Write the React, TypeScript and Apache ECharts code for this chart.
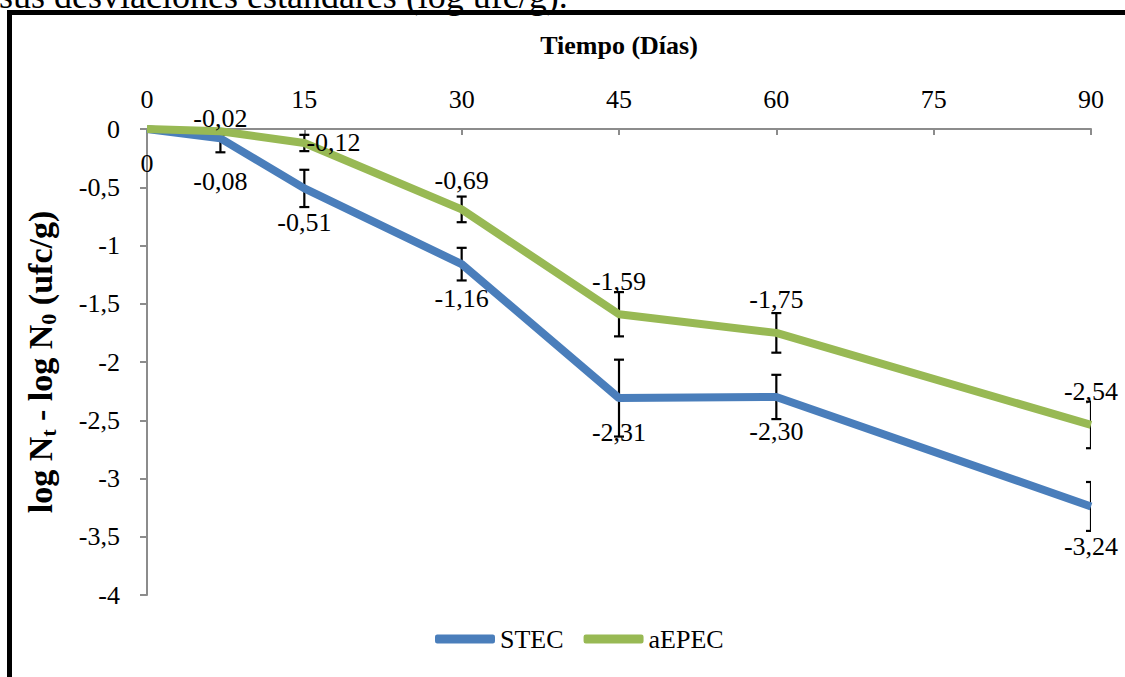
import React, { useEffect, useRef } from "react";
import * as echarts from "echarts";

const days = [0, 7, 15, 30, 45, 60, 90];
const stec = [0, -0.08, -0.51, -1.16, -2.31, -2.30, -3.24];
const aepec = [0, -0.02, -0.12, -0.69, -1.59, -1.75, -2.54];
const stecErr = [0, 0.12, 0.16, 0.14, 0.33, 0.19, 0.21];
const aepecErr = [0, 0.03, 0.07, 0.11, 0.19, 0.17, 0.2];
const xTicks = [0, 15, 30, 45, 60, 75, 90];
const yTicks = [0, -0.5, -1, -1.5, -2, -2.5, -3, -3.5, -4];

const FONT = "'Liberation Serif', 'Times New Roman', serif";
const BLUE = "#4A7EBB";
const GREEN = "#98B954";
const AXIS = "#8C8C8C";

const fmt = (v: number) => (v === 0 ? "0" : v.toFixed(2).replace(".", ","));

function errRender(params: any, api: any) {
  const x = api.value(0);
  const y = api.value(1);
  const e = api.value(2);
  if (!e) return null;
  const t = api.coord([x, y + e]);
  const b = api.coord([x, y - e]);
  const hw = 5;
  const style = { stroke: "#000", lineWidth: 2.2, fill: "none" };
  return {
    type: "group",
    children: [
      { type: "line", shape: { x1: t[0], y1: t[1], x2: b[0], y2: b[1] }, style },
      { type: "line", shape: { x1: t[0] - hw, y1: t[1], x2: t[0] + hw, y2: t[1] }, style },
      { type: "line", shape: { x1: b[0] - hw, y1: b[1], x2: b[0] + hw, y2: b[1] }, style },
    ],
  };
}

export default function App() {
  const ref = useRef<HTMLDivElement>(null);
  useEffect(() => {
    if (!ref.current) return;
    const chart = echarts.init(ref.current, undefined, { renderer: "svg" });
    const labelBase = { show: true, fontFamily: FONT, fontSize: 26, color: "#000" };
    const stecData = days.map((d, i) => ({
      value: [d, stec[i]],
      label: {
        ...labelBase,
        position: "bottom",
        distance: i === 1 ? 30 : i === 6 ? 27 : 21,
        formatter: () => fmt(stec[i]),
      },
    }));
    const aepecData = days.map((d, i) => ({
      value: [d, aepec[i]],
      label:
        i === 0
          ? { show: false }
          : i === 2
          ? { ...labelBase, position: "right", distance: 2, formatter: () => fmt(aepec[i]) }
          : {
              ...labelBase,
              position: "top",
              distance: i === 1 ? 0 : i === 3 ? 16 : 20,
              formatter: () => fmt(aepec[i]),
            },
    }));
    chart.setOption({
      animation: false,
      backgroundColor: "#fff",
      textStyle: { fontFamily: FONT },
      grid: { left: 147, right: 34, top: 129, bottom: 82, containLabel: false },
      xAxis: {
        type: "value",
        position: "top",
        min: 0,
        max: 90,
        interval: 15,
        name: "Tiempo (Días)",
        nameLocation: "middle",
        nameGap: 71,
        nameTextStyle: { fontFamily: FONT, fontSize: 26, fontWeight: "bold", color: "#000" },
        axisLine: { show: true, onZero: false, lineStyle: { color: AXIS, width: 2 } },
        axisTick: { show: true, inside: true, length: 6, lineStyle: { color: AXIS, width: 2 } },
        axisLabel: {
          fontFamily: FONT,
          fontSize: 26,
          color: "#000",
          margin: 17,
          formatter: (v: number) => (xTicks.includes(v) ? String(v) : ""),
        },
        splitLine: { show: false },
      },
      yAxis: {
        type: "value",
        min: -4,
        max: 0,
        interval: 0.5,
        name: "{a|log N}{s|t}{a| - log N}{s|0}{a| (ufc/g)}",
        nameLocation: "middle",
        nameGap: 88,
        nameTextStyle: {
          rich: {
            a: { fontFamily: FONT, fontSize: 34, fontWeight: "bold", color: "#000", lineHeight: 38 },
            s: {
              fontFamily: FONT,
              fontSize: 22,
              fontWeight: "bold",
              color: "#000",
              lineHeight: 38,
              verticalAlign: "bottom",
              padding: [10, 0, 0, 0],
            },
          },
        },
        axisLine: { show: true, onZero: false, lineStyle: { color: AXIS, width: 2 } },
        axisTick: { show: true, length: 7, lineStyle: { color: AXIS, width: 2 } },
        axisLabel: {
          fontFamily: FONT,
          fontSize: 26,
          color: "#000",
          margin: 27,
          formatter: (v: number) => (yTicks.includes(v) ? String(v).replace(".", ",") : ""),
        },
        splitLine: { show: false },
      },
      legend: {
        bottom: 20,
        left: 430,
        itemWidth: 60,
        itemHeight: 9,
        itemGap: 20,
        icon: "roundRect",
        textStyle: { fontFamily: FONT, fontSize: 26, color: "#000" },
        data: ["STEC", "aEPEC"],
      },
      graphic: [
        {
          type: "rect",
          shape: { x: 9.5, y: 12.5, width: 1300, height: 900 },
          style: { fill: "none", stroke: "#000", lineWidth: 5 },
          z: 100,
          silent: true,
        },
        {
          type: "text",
          x: -1,
          y: -22,
          style: {
            text: "sus desviaciones estándares (log ufc/g).",
            font: "36px 'Liberation Serif', 'Times New Roman', serif",
            fill: "#000",
          },
          z: 100,
        },
      ],
      series: [
        {
          name: "errSTEC",
          type: "custom",
          renderItem: errRender,
          clip: true,
          z: 1,
          encode: { x: 0, y: 1 },
          data: days.map((d, i) => [d, stec[i], stecErr[i]]),
        },
        {
          name: "errAEPEC",
          type: "custom",
          renderItem: errRender,
          clip: true,
          z: 1,
          encode: { x: 0, y: 1 },
          data: days.map((d, i) => [d, aepec[i], aepecErr[i]]),
        },
        {
          name: "STEC",
          type: "line",
          z: 3,
          symbol: "circle",
          symbolSize: 0.1,
          showSymbol: true,
          color: BLUE,
          lineStyle: { color: BLUE, width: 8 },
          labelLayout: { hideOverlap: false },
          data: stecData,
        },
        {
          name: "aEPEC",
          type: "line",
          z: 3,
          symbol: "circle",
          symbolSize: 0.1,
          showSymbol: true,
          color: GREEN,
          lineStyle: { color: GREEN, width: 8 },
          labelLayout: { hideOverlap: false },
          data: aepecData,
        },
      ],
    });
    return () => chart.dispose();
  }, []);
  return (
    <div
      ref={ref}
      style={{ position: "absolute", left: 0, top: 0, width: 1125, height: 677, background: "#fff" }}
    />
  );
}
